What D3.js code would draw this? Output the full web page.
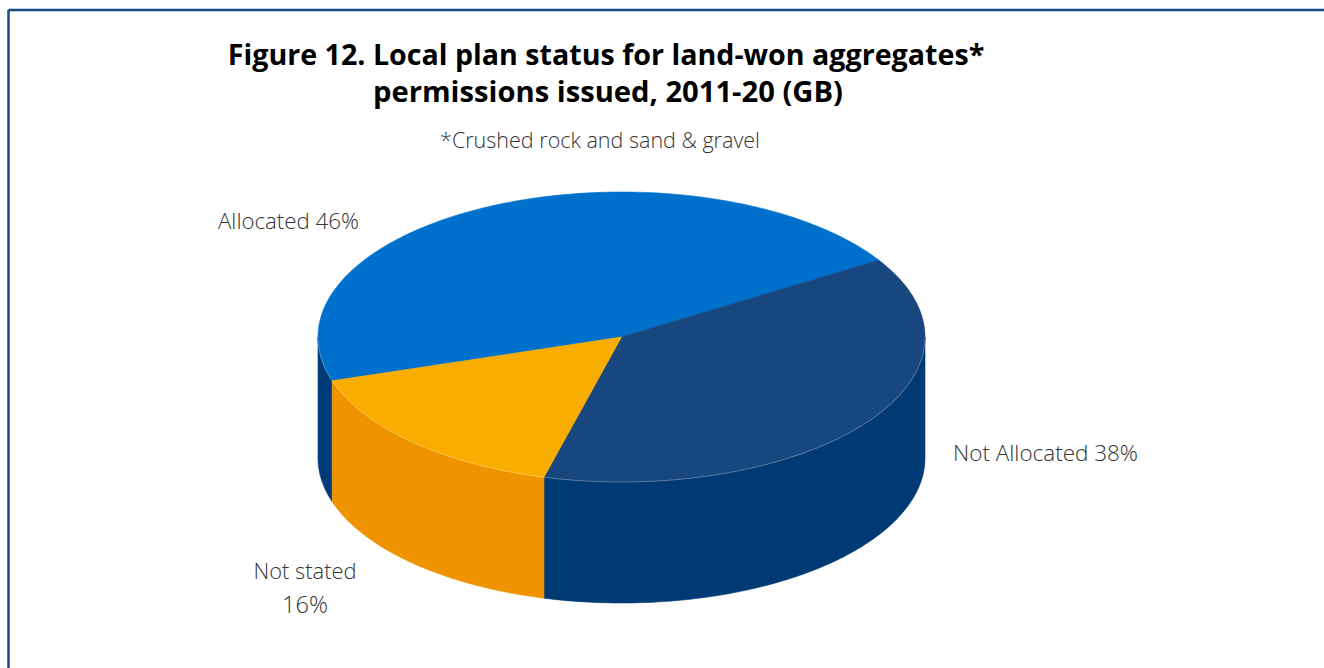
<!DOCTYPE html>
<html>
<head>
<meta charset="utf-8">
<script src="https://cdn.jsdelivr.net/npm/d3@7"></script>
<style>
  html, body { margin: 0; padding: 0; background: #ffffff; }
  svg { display: block; }
</style>
</head>
<body>
<svg id="chart" width="1324" height="668"></svg>
<script>
// ---- data ----
const categories = ["Allocated", "Not Allocated", "Not stated"];
const values = [46, 38, 16];
const labelLines = [["Allocated 46%"], ["Not Allocated 38%"], ["Not stated", "16%"]];
const titleLines = ["Figure 12. Local plan status for land-won aggregates*", "permissions issued, 2011-20 (GB)"];
const subtitle = "*Crushed rock and sand & gravel";

// ---- styles ----
const topColors = ["#0070cd", "#17477e", "#f9ad00"];
const sideColors = ["#003b78", "#003a75", "#f09300"];

const W = 1324, H = 668;
const svg = d3.select("#chart");

// frame
svg.append("line").attr("x1", 8.5).attr("x2", W).attr("y1", 10).attr("y2", 10)
  .attr("stroke", "#174a84").attr("stroke-width", 2.5);
svg.append("line").attr("x1", 8.5).attr("x2", 8.5).attr("y1", 10).attr("y2", H)
  .attr("stroke", "#174a84").attr("stroke-width", 2.5);

// ---- 3D pie geometry ----
const cx = 621.5, cy = 337, rx = 303.5, ry = 145, depth = 121;
const startDeg = 252.4; // d3 angle (0 = 12 o'clock, clockwise)
const pie = d3.pie().sort(null).value(d => d)
  .startAngle(startDeg * Math.PI / 180)
  .endAngle(startDeg * Math.PI / 180 + 2 * Math.PI);
const arcs = pie(values);

// convert d3 angle to screen parameter (clockwise from +x)
const toT = a => a - Math.PI / 2;
const pt = (t, dy = 0) => [cx + rx * Math.cos(t), cy + ry * Math.sin(t) + dy];

function arcPoints(t0, t1, dy = 0) {
  const n = Math.max(2, Math.ceil(Math.abs(t1 - t0) / (Math.PI / 180)));
  const pts = [];
  for (let i = 0; i <= n; i++) pts.push(pt(t0 + (t1 - t0) * i / n, dy));
  return pts;
}

const line = d3.line();

// side faces (visible where sin t >= 0)
const sides = svg.append("g");
arcs.forEach((a, i) => {
  const t0 = toT(a.startAngle), t1 = toT(a.endAngle);
  for (let k = -2; k <= 2; k++) {
    const lo = Math.max(t0, 2 * Math.PI * k), hi = Math.min(t1, 2 * Math.PI * k + Math.PI);
    if (hi > lo) {
      const topPts = arcPoints(lo, hi, 0);
      const botPts = arcPoints(hi, lo, depth);
      sides.append("path")
        .attr("d", line(topPts.concat(botPts)) + "Z")
        .attr("fill", sideColors[i])
        .attr("stroke", sideColors[i]).attr("stroke-width", 0.6);
    }
  }
});

// top faces
const tops = svg.append("g");
arcs.forEach((a, i) => {
  const t0 = toT(a.startAngle), t1 = toT(a.endAngle);
  const pts = [[cx, cy]].concat(arcPoints(t0, t1, 0));
  tops.append("path")
    .attr("d", line(pts) + "Z")
    .attr("fill", topColors[i])
    .attr("stroke", topColors[i]).attr("stroke-width", 0.6);
});

// subtle rim highlight on the front edge
svg.append("path")
  .attr("d", line(arcPoints(0.02, Math.PI - 0.02, 0)))
  .attr("fill", "none").attr("stroke", "rgba(255,255,255,0.25)").attr("stroke-width", 1);

// ---- text ----
function fitWidth(sel, target) {
  const fs = parseFloat(sel.attr("font-size"));
  const w = sel.node().getComputedTextLength();
  if (w > 0) sel.attr("font-size", (fs * target / w).toFixed(2));
}

const tFont = "'Open Sans', 'Noto Sans', sans-serif";
const t1 = svg.append("text").attr("x", 606).attr("y", 65).attr("text-anchor", "middle")
  .attr("font-family", tFont).attr("font-weight", 700).attr("font-size", 26).attr("fill", "#000")
  .text(titleLines[0]);
fitWidth(t1, 757);
const t2 = svg.append("text").attr("x", 608).attr("y", 102).attr("text-anchor", "middle")
  .attr("font-family", tFont).attr("font-weight", 700).attr("font-size", 26).attr("fill", "#000")
  .text(titleLines[1]);
fitWidth(t2, 470);

const lFont = "'Open Sans', 'Noto Sans', sans-serif";
const st = svg.append("text").attr("x", 600).attr("y", 148).attr("text-anchor", "middle")
  .attr("font-family", lFont).attr("font-weight", 300).attr("font-size", 20).attr("fill", "#333")
  .text(subtitle);
fitWidth(st, 320);

const labelPos = [
  { x: 288.5, y: 229, w: [141] },
  { x: 1045.5, y: 461, w: [185] },
  { x: 305, y: 579, w: [103, 46] }
];
labelLines.forEach((lines, i) => {
  lines.forEach((s, j) => {
    const tx = svg.append("text")
      .attr("x", labelPos[i].x).attr("y", labelPos[i].y + j * 34)
      .attr("text-anchor", "middle")
      .attr("font-family", lFont).attr("font-weight", 300).attr("font-size", 21)
      .attr("fill", "#333").text(s);
    fitWidth(tx, labelPos[i].w[j]);
  });
});
</script>
</body>
</html>
